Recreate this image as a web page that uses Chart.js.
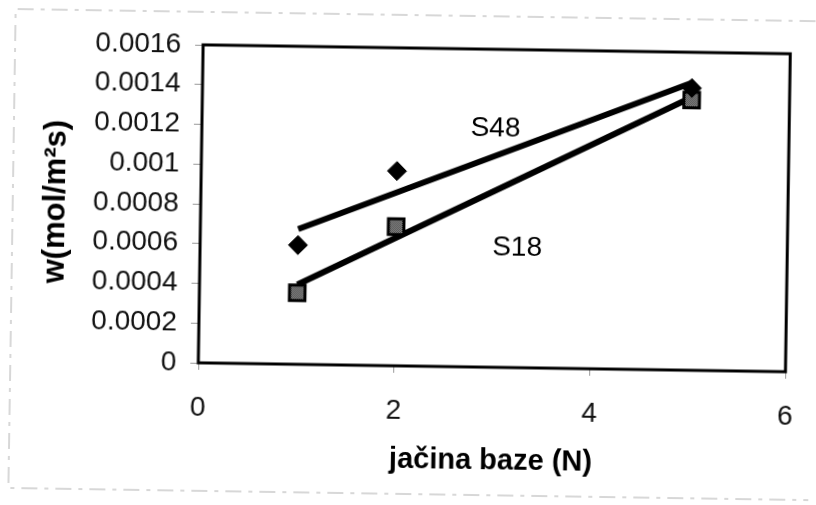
<!DOCTYPE html>
<html>
<head>
<meta charset="utf-8">
<title>w vs jačina baze</title>
<script src="https://cdn.jsdelivr.net/npm/chart.js@4.4.0/dist/chart.umd.min.js"></script>
<style>
  html, body { margin: 0; padding: 0; background: #fff; }
  #wrap { width: 816px; height: 505px; overflow: hidden; }
  /* the printed sheet sits a little crooked */
  #rateChart { transform: rotate(0.87deg); }
</style>
</head>
<body>
<div id="wrap"><canvas id="rateChart" width="816" height="505"></canvas></div>
<script>
// base strength (N)
const baseStrength = [1, 2, 5];
// reaction rate w, mol/m2s
const rateS48 = [0.0006, 0.00098, 0.00142];
const rateS18 = [0.00036, 0.0007, 0.00136];
const seriesNames = ['S48', 'S18'];
// where the series names are written, in axis units
const nameSpots = [[3.0, 0.0012], [3.24, 0.0006]];
const xTickValues = [0, 2, 4, 6];
const yTickValues = [0, 0.0002, 0.0004, 0.0006, 0.0008, 0.001, 0.0012, 0.0014, 0.0016];

Chart.defaults.font.family = '"Liberation Sans", Arial, sans-serif';
Chart.defaults.color = '#000';

// least squares straight line, like the spreadsheet trendline
function trend(xs, ys) {
    const n = xs.length;
    const mx = xs.reduce((a, b) => a + b, 0) / n;
    const my = ys.reduce((a, b) => a + b, 0) / n;
    let sxy = 0, sxx = 0;
    xs.forEach((x, i) => { sxy += (x - mx) * (ys[i] - my); sxx += (x - mx) * (x - mx); });
    const k = sxy / sxx;
    const b = my - k * mx;
    const x0 = Math.min(...xs), x1 = Math.max(...xs);
    return [{ x: x0, y: k * x0 + b }, { x: x1, y: k * x1 + b }];
}

const toPoints = (xs, ys) => xs.map((x, i) => ({ x: x, y: ys[i] }));

// halftone grey fill for the square markers
const tile = document.createElement('canvas');
tile.width = 2; tile.height = 2;
const tctx = tile.getContext('2d');
tctx.fillStyle = '#a8a8a8'; tctx.fillRect(0, 0, 2, 2);
tctx.fillStyle = '#2e2e2e'; tctx.fillRect(0, 0, 1, 1); tctx.fillRect(1, 1, 1, 1);
const squareFill = tctx.createPattern(tile, 'repeat');

// plot frame, faint sheet border and the series names
const framePlugin = {
    id: 'frame',
    beforeDraw(chart) {
        const ctx = chart.ctx;
        ctx.save();
        ctx.strokeStyle = '#b0b0b0';
        ctx.lineWidth = 1;
        ctx.setLineDash([16, 7, 4, 7]);
        ctx.beginPath();
        ctx.moveTo(812, 15); ctx.lineTo(12, 15); ctx.lineTo(12, 494); ctx.lineTo(812, 494);
        ctx.stroke();
        ctx.restore();
    },
    beforeDatasetsDraw(chart) {
        const a = chart.chartArea;
        const ctx = chart.ctx;
        ctx.save();
        ctx.strokeStyle = '#000';
        ctx.lineWidth = 3;
        ctx.strokeRect(a.left, a.top, a.right - a.left, a.bottom - a.top);
        ctx.restore();
    },
    afterDatasetsDraw(chart) {
        const ctx = chart.ctx;
        const xs = chart.scales.x, ys = chart.scales.y;
        ctx.save();
        ctx.font = '28px "Liberation Sans", Arial, sans-serif';
        ctx.fillStyle = '#000';
        ctx.textAlign = 'center';
        ctx.textBaseline = 'middle';
        seriesNames.forEach((name, i) => {
            ctx.fillText(name, xs.getPixelForValue(nameSpots[i][0]), ys.getPixelForValue(nameSpots[i][1]));
        });
        ctx.restore();
    }
};

new Chart(document.getElementById('rateChart'), {
    type: 'scatter',
    data: {
        datasets: [
            {
                label: seriesNames[0],
                data: toPoints(baseStrength, rateS48),
                pointStyle: 'rectRot',
                pointRadius: 9.5,
                backgroundColor: '#000',
                borderColor: '#000',
                borderWidth: 1,
                order: 1
            },
            {
                label: seriesNames[1],
                data: toPoints(baseStrength, rateS18),
                pointStyle: 'rect',
                pointRadius: 11,
                backgroundColor: squareFill,
                borderColor: '#000',
                borderWidth: 3,
                order: 1
            },
            {
                label: seriesNames[0] + ' trend',
                data: trend(baseStrength, rateS48),
                showLine: true,
                pointRadius: 0,
                borderColor: '#000',
                borderWidth: 6,
                order: 2
            },
            {
                label: seriesNames[1] + ' trend',
                data: trend(baseStrength, rateS18),
                showLine: true,
                pointRadius: 0,
                borderColor: '#000',
                borderWidth: 6,
                order: 2
            }
        ]
    },
    options: {
        responsive: false,
        animation: false,
        devicePixelRatio: 1,
        layout: { padding: { top: 48, right: 22, left: 0, bottom: 0 } },
        plugins: {
            legend: { display: false },
            tooltip: { enabled: false }
        },
        scales: {
            x: {
                type: 'linear',
                min: 0,
                max: 6,
                afterBuildTicks: s => { s.ticks = xTickValues.map(v => ({ value: v })); },
                afterFit: s => { s.height = 139; },
                grid: { drawOnChartArea: false, tickLength: 7, color: '#999' },
                border: { display: false },
                ticks: { font: { size: 28 }, color: '#111', padding: 21 },
                title: {
                    display: true,
                    text: 'jačina baze (N)',
                    font: { size: 29, weight: 'bold' },
                    color: '#000',
                    padding: { top: 0, bottom: 28 }
                }
            },
            y: {
                type: 'linear',
                min: 0,
                max: 0.0016,
                afterBuildTicks: s => { s.ticks = yTickValues.map(v => ({ value: v })); },
                afterFit: s => { s.width = 200; },
                grid: { drawOnChartArea: false, tickLength: 8, color: '#999' },
                border: { display: false },
                ticks: {
                    font: { size: 28 },
                    color: '#111',
                    padding: 14,
                    callback: v => String(+v.toFixed(4))
                },
                title: {
                    display: true,
                    text: 'w(mol/m²s)',
                    font: { size: 31, weight: 'bold' },
                    color: '#000',
                    padding: { top: 37, bottom: 0 }
                }
            }
        }
    },
    plugins: [framePlugin]
});
</script>
</body>
</html>
